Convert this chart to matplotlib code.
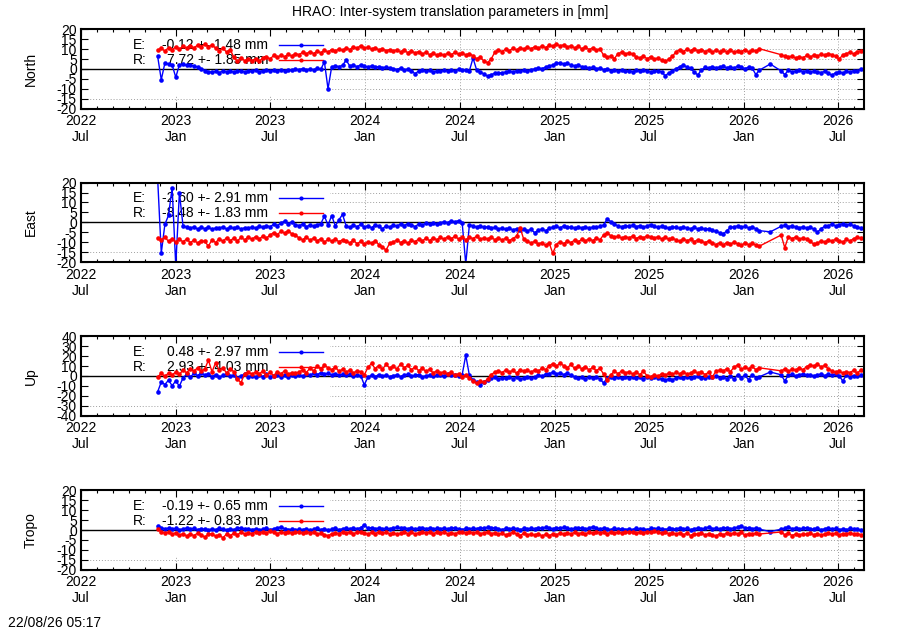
import matplotlib
matplotlib.use('Agg')
import matplotlib.pyplot as plt
import matplotlib.dates as mdates
from matplotlib.patches import Rectangle
import numpy as np
import pandas as pd

plt.rcParams['font.family'] = ['Liberation Sans', 'DejaVu Sans']

# weekly samples, starting 2022-11-26 (None = no solution)
start_date = '2022-11-26'
n_weeks = 195

north_e = [
    6.4, -5.4, 3.0, 2.5, 2.0, -4.2, 2.2, 2.5, 1.8, 2.0, 1.5, 1.0, 0.2,
    -0.8, -1.3, -1.6, -1.2, -1.8, -1.0, -1.4, -0.9, -1.6, -1.2, -0.8, -1.5, -1.1,
    -1.0, -0.6, -1.3, -0.8, -0.5, -1.1, -0.7, -0.9, -0.4, -0.8, -0.3, -0.6, -0.2,
    -0.3, 0.2, -0.5, 0.0, -0.4, 0.3, -0.2, 3.6, -10.0, 1.0, 1.5, 1.2, 1.8,
    4.5, 1.5, 1.8, 1.2, 2.0, 1.4, 1.0, 1.6, 0.8, 1.2, 0.6, 1.0, 0.4,
    0.2, -0.3, 0.5, -0.6, 0.0, -0.8, -2.4, -1.0, -0.5, -1.2, -0.7, -1.4, -1.0,
    -1.2, -0.6, -1.0, -0.4, -0.8, -0.2, -0.6, -0.3, -0.9, 5.5, -0.5, -1.5, -2.5,
    -3.6, -2.8, -2.2, -1.8, -2.0, -1.5, -1.2, -1.6, -0.8, -1.1, -0.5, -0.9, -0.3,
    0.0, 0.5, 0.2, 0.9, 1.5, 2.0, 2.8, 3.2, 2.5, 2.8, 2.0, 1.6, 1.8,
    1.2, 0.8, 0.4, 0.9, 0.2, 0.5, -0.3, 0.1, -0.8, -0.4, -1.0, -0.6, -1.2,
    -0.8, -1.3, -0.7, -1.1, -0.6, -1.0, -1.5, -1.2, -0.8, -1.4, -3.4, -2.0, -1.0,
    0.2, 1.2, 2.0, 1.0, 0.3, -1.5, -3.0, -0.5, 0.8, 0.4, 1.2, 0.6, 1.0,
    1.3, 0.6, 1.0, 0.4, 1.5, 0.8, 0.2, 0.9, 0.5, -2.8, -0.6, None, None,
    2.5, None, None, -1.0, -2.8, -0.6, -1.5, -1.0, -0.7, -1.3, -0.9, -1.6, -1.1,
    -1.4, -1.8, -1.2, -2.2, -3.2, -1.9, -1.5, -2.0, -1.2, -1.6, -0.8, -1.0, -0.2,
]
north_r = [
    9.5, 10.5, 9.0, 10.8, 9.6, 11.2, 10.0, 11.5, 10.4, 11.8, 10.6, 12.0, 11.2,
    12.6, 11.0, 12.2, 10.5, 9.2, 10.6, 8.5, 9.8, 6.0, 3.8, 5.6, 4.2, 5.0,
    4.2, 5.2, 3.8, 5.5, 6.2, 5.0, 6.8, 5.8, 7.0, 6.2, 7.4, 6.5, 7.8,
    7.2, 8.4, 7.6, 8.8, 7.8, 9.0, 8.2, 9.4, 8.6, 9.8, 9.0, 10.2, 9.4,
    10.6, 9.8, 11.2, 10.4, 11.8, 10.6, 11.0, 10.0, 10.8, 9.6, 10.2, 9.2, 9.8,
    9.0, 9.8, 8.6, 9.4, 8.2, 9.2, 8.0, 8.8, 7.6, 8.4, 7.2, 8.0, 6.8,
    7.6, 6.8, 8.0, 7.2, 8.4, 7.4, 8.2, 7.0, 7.8, 6.6, 5.2, 6.0, 4.0,
    3.2, 5.0, 8.4, 9.6, 8.8, 10.0, 9.2, 10.4, 9.6, 10.8, 10.0, 11.0, 10.2,
    11.2, 10.4, 11.6, 10.8, 12.0, 11.4, 12.6, 11.6, 12.2, 11.0, 11.8, 10.6, 11.4,
    10.2, 11.0, 9.8, 10.6, 9.4, 10.2, 7.0, 5.8, 6.6, 5.2, 7.8, 8.4, 7.6,
    8.2, 7.4, 6.2, 5.6, 6.4, 5.2, 6.0, 4.8, 5.6, 4.4, 3.8, 5.0, 6.4,
    8.6, 9.8, 8.8, 10.0, 9.2, 10.2, 9.0, 9.8, 8.8, 9.6, 8.6, 9.4, 8.8,
    9.6, 8.6, 9.4, 8.4, 9.2, 8.8, 9.8, 8.6, 9.6, 9.0, 10.2, None, None,
    None, None, None, 7.2, 6.4, 5.8, 6.6, 5.4, 6.2, 5.6, 6.8, 6.0, 7.0,
    6.6, 7.4, 6.8, 7.8, 7.2, 6.4, 5.0, 7.0, 7.8, 8.4, 7.6, 8.8, 9.2,
]

east_e = [
    22.0, -15.5, -1.0, 3.5, 17.5, -22.0, 15.0, -1.8, -2.5, -3.0, -2.2, -3.4, -2.6,
    -3.2, -2.4, -3.6, -2.8, -3.0, -2.2, -3.4, -2.6, -3.1, -2.3, -3.5, -2.7, -2.9,
    -2.4, -3.0, -2.0, -2.6, -1.6, -2.2, -1.0, -1.6, -0.4, 0.6, -0.8, 0.2, -1.2,
    -1.6, -1.0, -2.2, -1.4, -2.0, -1.2, -0.8, 3.2, -1.5, 3.4, -1.8, 1.2, 4.0,
    -1.8, -2.6, -1.4, -2.2, -1.0, -2.4, -1.6, -2.8, -1.2, -2.0, -3.4, -1.6, -2.4,
    -1.4, -2.0, -0.8, -1.6, -0.6, -1.2, -2.2, -0.8, -1.4, -0.4, -1.0, -0.2, -0.8,
    -0.4, 0.4, -0.2, 0.8, 0.2, 0.9, -0.1, -21.0, -1.2, -1.8, -2.4, -1.6, -2.6,
    -2.2, -3.0, -2.6, -3.4, -2.8, -3.6, -3.0, -3.8, -3.2, -4.0, -3.4, -4.2, -3.6,
    -5.2, -4.0, -3.4, -4.2, -3.0, -2.4, -2.0, -2.8, -1.8, -2.6, -2.2, -3.0, -2.4,
    -2.8, -2.2, -3.0, -2.4, -2.6, -2.0, -1.4, 1.6, 0.4, -1.0, -1.8, -2.2, -1.6,
    -2.0, -1.4, -2.2, -1.6, -2.4, -1.8, -1.2, -2.0, -2.6, -1.8, -2.4, -3.0, -2.2,
    -2.6, -3.0, -2.4, -2.8, -3.2, -2.6, -3.4, -2.8, -3.6, -3.2, -4.0, -4.6, -5.2,
    -6.0, -4.2, -2.6, -2.2, -1.8, -2.6, -2.0, -2.8, -2.4, -3.2, -4.2, None, None,
    -4.8, None, None, -2.0, -1.4, -2.2, -1.6, -2.4, -2.8, -2.2, -3.0, -2.6, -3.4,
    -5.0, -3.2, -2.0, -1.6, -1.0, -1.8, -1.2, -0.6, -1.4, -1.0, -1.8, -2.2, -3.0,
]
east_r = [
    -7.8, -8.8, -7.4, -9.6, -8.2, -10.0, -8.6, -9.8, -8.4, -10.2, -9.0, -10.4, -9.2,
    -9.6, -12.0, -8.8, -10.2, -8.2, -9.6, -7.8, -9.2, -8.0, -9.4, -7.6, -8.8, -7.4,
    -8.6, -7.2, -8.4, -7.0, -8.0, -6.4, -5.2, -6.2, -4.6, -5.4, -4.2, -5.8, -6.6,
    -7.8, -8.8, -7.4, -9.0, -8.0, -9.4, -8.2, -10.0, -8.6, -9.6, -8.4, -9.8, -8.8,
    -9.4, -10.4, -9.0, -10.8, -9.6, -11.0, -9.8, -10.6, -9.2, -11.2, -12.4, -14.0, -10.6,
    -10.0, -8.8, -10.2, -9.2, -10.6, -9.0, -9.8, -8.4, -9.4, -8.0, -9.2, -7.8, -8.8,
    -7.6, -8.6, -7.2, -8.2, -7.0, -8.4, -7.4, -8.8, -7.6, -8.2, -7.0, -8.6, -7.8,
    -8.4, -7.4, -8.8, -7.8, -9.0, -8.0, -9.2, -8.2, -7.0, -2.8, -8.6, -9.6, -10.4,
    -9.6, -11.0, -10.2, -11.6, -10.4, -15.6, -11.2, -9.8, -10.8, -9.4, -10.2, -9.0, -9.8,
    -8.6, -9.4, -8.2, -9.2, -8.0, -8.8, -6.4, -5.2, -6.8, -7.6, -7.0, -8.0, -7.2,
    -7.8, -7.0, -8.2, -7.2, -7.8, -6.8, -7.6, -8.0, -7.2, -8.4, -7.6, -8.6, -8.0,
    -8.8, -9.6, -8.4, -9.2, -8.6, -9.8, -8.8, -9.6, -10.2, -9.4, -10.6, -11.2, -10.4,
    -11.4, -10.2, -11.0, -10.0, -10.8, -11.6, -10.4, -11.2, -10.6, -11.4, -12.0, None, None,
    None, None, None, -6.4, -12.8, -7.2, -8.2, -7.4, -8.6, -7.8, -8.4, -9.6, -11.0,
    -10.6, -9.2, -10.0, -8.8, -9.6, -8.4, -9.2, -10.0, -8.6, -9.4, -8.2, -7.6, -8.0,
]

up_e = [
    -16.0, -6.0, -8.6, -4.2, -9.8, -5.0, -10.2, -2.0, 1.8, -1.2, 2.6, 0.4, 3.0,
    0.8, 2.2, -0.6, 1.4, -1.2, 0.6, 2.0, -0.4, 1.2, -1.6, 0.2, 1.8, -0.8,
    0.4, -1.4, 1.0, -0.6, 1.6, -1.0, 0.2, 1.2, -0.8, 0.6, -1.2, 1.0, 0.0,
    1.2, -0.4, 2.0, 0.6, 2.8, 1.4, 3.2, 1.8, 2.6, 1.0, 2.4, 0.8, 1.8,
    0.6, 1.6, -0.2, 1.2, 0.4, -8.8, -1.4, 0.8, -0.6, 1.4, 0.0, 1.0, -0.8,
    0.4, 1.2, -0.6, 0.8, 1.6, -0.2, 0.6, 1.4, -1.0, 0.2, 1.0, -0.4, 0.8,
    1.2, 0.4, 1.6, 0.8, 1.4, 0.2, 1.0, 21.0, 0.6, -4.0, -6.4, -8.8, -6.0,
    -4.2, -2.4, -1.0, -2.8, -1.6, -2.2, -0.8, -2.6, -1.4, -3.0, -1.8, -0.6, -2.0,
    -1.2, 0.8, -0.4, 1.8, 2.4, 3.6, 2.0, 3.2, 1.4, 2.6, 0.6, -0.8, -1.8,
    -1.4, -2.6, -0.8, -2.0, -1.2, -3.0, -7.0, -2.2, -0.6, -1.8, -1.0, -2.4, -1.4,
    -1.8, -0.6, -2.2, -1.2, -2.6, -1.0, -2.0, -0.8, -1.6, -3.4, -4.2, -2.8, -3.6,
    -2.2, -1.0, -1.8, -0.6, -2.4, -1.2, -0.4, -1.6, -2.0, -0.8, -1.4, -0.2, -1.8,
    -1.0, -2.6, 0.4, -3.4, 1.2, -2.0, 0.8, -3.8, 1.4, -1.6, -0.8, None, None,
    4.0, None, None, 1.2, -5.0, 0.8, 1.6, 0.2, 1.2, 2.0, 0.6, 1.4, 0.0,
    1.0, 2.0, 0.4, 1.6, 0.8, 1.8, 0.2, -5.0, 0.6, -0.6, 0.4, -0.2, 0.8,
]
up_r = [
    -1.0, 2.6, -0.4, 3.0, 0.8, 4.2, 1.6, 6.0, 3.2, 7.4, 4.8, 8.2, 5.0,
    6.8, 16.0, 4.2, 13.5, 5.6, 8.4, 3.0, 7.2, 4.4, -3.0, -6.8, 2.4, 3.8,
    1.6, 4.2, 2.0, 5.0, 1.2, 3.6, 0.4, 4.4, 2.2, 5.2, 1.8, 3.4, 2.6,
    4.0, 6.2, 3.4, 7.8, 5.2, 9.6, 7.0, 11.0, 8.2, 6.4, 9.0, 4.8, 6.6,
    3.8, 6.0, 2.8, 5.4, 4.2, 1.0, 8.6, 12.6, 7.4, 10.4, 6.8, 11.6, 8.0,
    9.6, 7.0, 12.2, 8.4, 10.6, 6.2, 9.2, 5.4, 7.8, 4.6, 6.6, 3.2, 5.0,
    2.8, 4.4, 1.6, 3.6, 0.8, 2.4, -0.6, 1.2, -2.0, -4.6, -7.2, -5.0, -6.4,
    -3.0, 1.4, 3.8, 5.2, 3.4, 6.0, 4.0, 5.6, 2.8, 6.4, 4.6, 5.8, 3.6,
    6.2, 4.8, 8.0, 6.4, 10.2, 12.4, 9.6, 13.0, 10.4, 8.2, 11.6, 7.6, 9.8,
    7.2, 9.4, 6.0, 8.6, 5.4, 7.8, 2.0, -3.8, 1.2, 4.6, 2.4, 5.0, 3.2,
    4.2, 2.0, 3.6, 1.4, 4.8, 0.2, -0.8, 1.0, -0.4, 2.2, 0.6, 3.0, 1.6,
    3.6, 2.2, 4.4, 1.8, 3.0, 5.2, 2.6, 4.0, 1.4, 3.8, -1.0, 4.6, 6.0,
    5.0, 7.4, 4.2, 9.0, 11.0, 6.6, 8.8, 7.2, 9.6, 6.4, 8.2, None, None,
    None, None, None, 5.2, 7.0, 4.6, 6.8, 5.6, 8.4, 6.2, 9.4, 11.2, 10.0,
    12.0, 9.2, 10.6, 7.4, 5.2, 3.6, 5.0, 2.8, 4.4, 3.4, 5.8, 2.6, 6.4,
]

tropo_e = [
    2.0, 1.2, 0.6, 1.0, 0.4, 0.8, 0.2, 0.6, 1.0, 0.4, 0.8, 0.2, 0.6,
    0.4, 0.0, 0.6, 0.2, 0.8, 0.4, 0.0, 0.6, 0.2, 0.8, 1.2, 0.4, 0.6,
    0.2, 0.6, 0.0, 0.4, 0.8, 0.2, 0.6, 1.0, 1.6, 0.6, 0.2, 0.4, 0.0,
    0.4, 0.2, 0.6, 0.0, 0.4, 0.8, 0.2, 0.6, 0.0, 0.4, 0.8, 0.2, 0.6,
    0.8, 0.4, 1.0, 0.6, 1.2, 2.6, 0.8, 1.2, 0.6, 1.0, 0.4, 0.8, 0.6,
    1.0, 1.4, 0.8, 1.2, 0.6, 1.0, 0.4, 0.8, 1.2, 0.6, 1.0, 0.4, 0.8,
    0.6, 1.0, 0.4, 0.8, 1.2, 0.6, 0.2, 0.8, 0.4, 1.0, 0.6, 1.2, 0.8,
    1.4, 0.8, 1.2, 0.6, 0.2, 0.8, 0.4, 1.0, 0.6, 0.2, 0.8, 0.4, 1.0,
    0.6, 1.2, 0.8, 1.4, 1.0, 0.6, 1.2, 0.8, 1.4, 1.0, 0.4, 0.8, 1.2,
    0.8, 0.4, 1.0, 1.6, 0.8, 0.4, 1.0, 0.6, 0.2, 0.8, 0.4, 0.6, 0.2,
    0.6, 0.2, 0.8, 0.4, 0.6, 0.2, 0.8, 0.4, 1.0, 0.6, 0.2, 0.8, 0.4,
    0.6, 1.0, 0.4, 0.8, 0.2, 0.6, 1.0, 0.4, 0.8, 1.6, 0.6, 1.0, 0.4,
    0.8, 1.2, 0.6, 1.0, 1.4, 2.2, 0.8, 1.2, 0.6, 1.0, 0.4, None, None,
    -0.8, None, None, 0.4, 0.8, 1.6, 0.6, 1.0, 0.4, 0.8, 1.2, 0.6, 0.4,
    0.8, 0.2, 0.6, 1.0, 0.4, 0.8, 0.2, 0.6, 0.2, 0.8, 0.4, 0.6, 0.0,
]
tropo_r = [
    0.6, -0.8, -1.6, -1.0, -2.2, -1.4, -2.6, -1.8, -3.0, -2.0, -2.8, -1.6, -2.4,
    -3.6, -2.2, -1.8, -3.2, -2.4, -4.0, -2.0, -2.8, -1.6, -2.4, -1.2, -2.0, -1.4,
    -1.8, -1.0, -1.6, -0.8, -1.4, -0.6, -1.2, -1.8, -1.0, -1.4, -0.8, -1.6, -1.2,
    -1.0, -1.6, -0.8, -1.4, -1.2, -2.0, -1.6, -2.4, -2.8, -2.0, -1.4, -1.8, -1.2,
    -1.6, -1.0, -1.8, -1.2, -0.8, -1.4, -2.0, -1.2, -1.8, -1.0, -1.6, -1.2, -2.0,
    -1.4, -2.2, -1.6, -1.0, -1.8, -1.2, -2.0, -1.4, -0.8, -1.6, -1.0, -1.8, -1.2,
    -1.6, -1.0, -2.0, -1.4, -1.8, -1.2, -0.8, -1.6, -1.0, -1.4, -1.2, -1.8, -1.4,
    -1.0, -1.8, -1.4, -2.2, -1.6, -2.6, -1.8, -1.2, -2.0, -2.8, -1.6, -2.4, -2.0,
    -2.6, -1.8, -3.0, -2.2, -2.8, -2.0, -2.4, -1.6, -2.2, -1.4, -2.0, -1.2, -1.8,
    -1.4, -2.0, -1.2, -1.6, -0.8, -1.4, -1.0, -1.8, -1.2, -1.6, -1.0, -1.4, -0.8,
    -1.2, -0.8, -1.6, -1.0, -1.4, -0.8, -1.2, -0.6, -1.0, -1.6, -1.2, -1.8, -1.4,
    -2.0, -1.4, -2.4, -1.6, -2.8, -1.8, -2.2, -1.4, -2.6, -1.8, -2.4, -3.0, -2.0,
    -2.4, -1.6, -2.2, -1.4, -2.0, -1.2, -2.6, -1.8, -2.2, -1.6, -2.0, None, None,
    None, None, None, -1.0, -2.4, -1.6, -2.8, -2.0, -2.6, -1.8, -2.2, -1.6, -2.4,
    -1.8, -2.6, -2.0, -1.4, -2.2, -1.6, -2.4, -1.8, -2.0, -1.4, -2.2, -1.8, -2.4,
]

panel_names = ['North', 'East', 'Up', 'Tropo']
e_labels = ['-0.12 +- 1.48 mm', '-2.60 +- 2.91 mm', '0.48 +- 2.97 mm', '-0.19 +- 0.65 mm']
r_labels = ['7.72 +- 1.85 mm', '-8.48 +- 1.83 mm', '2.93 +- 4.03 mm', '-1.22 +- 0.83 mm']
y_limits = [20, 20, 40, 20]
y_steps = [5, 5, 10, 5]

title = 'HRAO: Inter-system translation parameters in [mm]'
stamp = '22/08/26 05:17'
x_start = pd.Timestamp('2022-07-01')
x_end = pd.Timestamp('2026-08-21')

dates = pd.date_range(start_date, periods=n_weeks, freq='7D')


def to_series(vals):
    return pd.Series(vals, index=dates, dtype=float).dropna()


def draw_key(ax, ypos, tag, text, color):
    ax.text(0.0665, ypos, tag, transform=ax.transAxes, ha='left', va='center',
            fontsize=10, zorder=1.5)
    ax.text(0.239, ypos, text, transform=ax.transAxes, ha='right', va='center',
            fontsize=10, zorder=1.5)
    ax.plot([0.253, 0.309], [ypos, ypos], transform=ax.transAxes, color=color,
            lw=1.0, zorder=1.5, clip_on=False)
    ax.plot([0.281], [ypos], 'o', transform=ax.transAxes, color=color, ms=3.0,
            mew=0, zorder=1.5, clip_on=False)


panels = [(north_e, north_r), (east_e, east_r), (up_e, up_r), (tropo_e, tropo_r)]
bottoms = [0.8275, 0.5841, 0.3402, 0.0957]

fig = plt.figure(figsize=(9, 6.3), dpi=100)
fig.text(0.5, 1 - 12 / 630, title, ha='center', va='center', fontsize=10)
fig.text(8 / 900, 1 - 623 / 630, stamp, ha='left', va='center', fontsize=10)

major_loc = mdates.MonthLocator(bymonth=[1, 7])
for k, (e_vals, r_vals) in enumerate(panels):
    ax = fig.add_axes([0.09, bottoms[k], 0.87, 0.126])
    lim = y_limits[k]
    yt = np.arange(-lim, lim + 1, y_steps[k])

    # dotted grid, drawn by hand so it can sit below the key box
    for yv in yt[1:-1]:
        ax.axhline(yv, color='#a0a0a0', lw=0.7, ls=(0, (1, 2)), zorder=0.5)
    for xv in major_loc.tick_values(x_start, x_end):
        ax.axvline(mdates.num2date(xv), color='#a0a0a0', lw=0.7, ls=(0, (1, 2)), zorder=0.5)
    ax.add_patch(Rectangle((0, 0.17), 0.318, 0.83, transform=ax.transAxes,
                           facecolor='white', edgecolor='none', zorder=1.0))
    ax.axhline(0, color='black', lw=1.0, zorder=1.8)

    e = to_series(e_vals)
    r = to_series(r_vals)
    ax.plot(e.index, e.values, '-o', color='#0000ff', lw=1.0, ms=3.3, mew=0, zorder=2)
    ax.plot(r.index, r.values, '-o', color='#ff0000', lw=1.0, ms=3.3, mew=0, zorder=2.1)

    draw_key(ax, 0.805, 'E:', e_labels[k], '#0000ff')
    draw_key(ax, 0.615, 'R:', r_labels[k], '#ff0000')

    ax.set_xlim(x_start, x_end)
    ax.set_ylim(-lim, lim)
    ax.set_yticks(yt)
    ax.set_yticklabels([str(v) for v in yt])
    ax.xaxis.set_major_locator(major_loc)
    ax.xaxis.set_minor_locator(mdates.MonthLocator())
    ax.xaxis.set_major_formatter(mdates.DateFormatter('%Y\n%b'))
    ax.tick_params(which='both', direction='in', top=True, right=True, labelsize=10, width=0.8)
    ax.tick_params(which='major', length=5, pad=4)
    ax.tick_params(which='minor', length=2.5)
    ax.tick_params(axis='y', pad=3)
    for sp in ax.spines.values():
        sp.set_linewidth(1.5)
    ax.set_ylabel(panel_names[k], fontsize=10)
    ax.yaxis.set_label_coords(-0.055, 0.5)

fig.savefig('out.png', dpi=100)
